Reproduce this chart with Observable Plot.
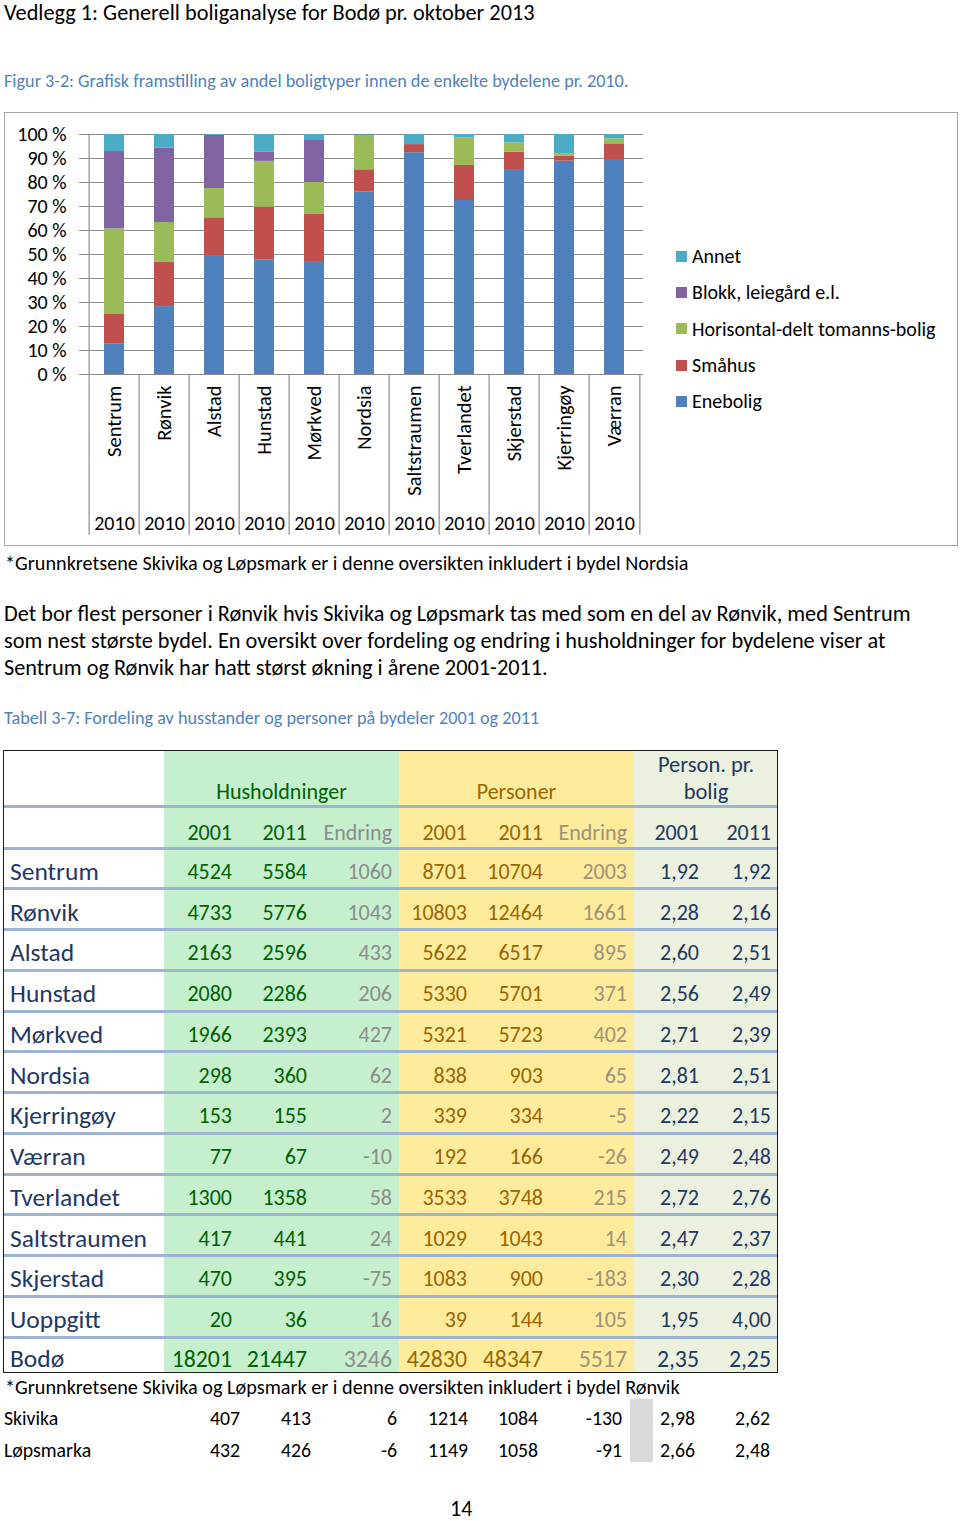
<!DOCTYPE html>
<html><head><meta charset="utf-8">
<script src="https://cdn.jsdelivr.net/npm/d3@7"></script>
<script src="https://cdn.jsdelivr.net/npm/@observablehq/plot@0.6"></script>
<style>
body{margin:0;background:#fff;font-family:Carlito,Calibri,Lato,sans-serif;color:#000;}
#page{position:relative;width:960px;height:1521px;overflow:hidden;}
.a{position:absolute;white-space:nowrap;}
.cell{position:absolute;display:flex;align-items:center;white-space:nowrap;}
</style></head><body><div id="page"></div>
<script>
// ---------- chart data ----------
const bydeler = ["Sentrum","Rønvik","Alstad","Hunstad","Mørkved","Nordsia","Saltstraumen","Tverlandet","Skjerstad","Kjerringøy","Værran"];
const aar = "2010";
const boligtyper = ["Enebolig","Småhus","Horisontal-delt tomanns-bolig","Blokk, leiegård e.l.","Annet"];
const enebolig   = [12.8,28.3,49.2,47.8,46.7,76.0,92.4,72.5,85.4,88.9,89.6];
const smahus     = [12.2,18.6,16.1,21.9,20.2, 9.3, 3.4,14.6, 7.2, 2.1, 6.5];
const horisontal = [35.7,16.4,12.2,19.1,13.1,14.3, 0.0,11.5, 3.9, 0.8, 2.1];
const blokk      = [32.2,31.0,22.1, 3.8,17.5, 0.2, 0.0, 0.0, 0.0, 0.0, 0.0];
const annet      = [ 7.1, 5.7, 0.4, 7.4, 2.5, 0.2, 4.2, 1.4, 3.5, 8.2, 1.8];
const yTicks = [0,10,20,30,40,50,60,70,80,90,100];
const legendOrder = ["Annet","Blokk, leiegård e.l.","Horisontal-delt tomanns-bolig","Småhus","Enebolig"];

// ---------- table data ----------
const tabBydeler = ["Sentrum","Rønvik","Alstad","Hunstad","Mørkved","Nordsia","Kjerringøy","Værran","Tverlandet","Saltstraumen","Skjerstad","Uoppgitt","Bodø"];
const hus2001  = [4524,4733,2163,2080,1966,298,153,77,1300,417,470,20,18201];
const hus2011  = [5584,5776,2596,2286,2393,360,155,67,1358,441,395,36,21447];
const husEndr  = [1060,1043,433,206,427,62,2,-10,58,24,-75,16,3246];
const pers2001 = [8701,10803,5622,5330,5321,838,339,192,3533,1029,1083,39,42830];
const pers2011 = [10704,12464,6517,5701,5723,903,334,166,3748,1043,900,144,48347];
const persEndr = [2003,1661,895,371,402,65,-5,-26,215,14,-183,105,5517];
const ppb2001  = ["1,92","2,28","2,60","2,56","2,71","2,81","2,22","2,49","2,72","2,47","2,30","1,95","2,35"];
const ppb2011  = ["1,92","2,16","2,51","2,49","2,39","2,51","2,15","2,48","2,76","2,37","2,28","4,00","2,25"];
const ekstraNavn = ["Skivika","Løpsmarka"];
const ekstra = [
  [407,413,6,1214,1084,-130,"2,98","2,62"],
  [432,426,-6,1149,1058,-91,"2,66","2,48"]
];

const FONT = "Carlito, Calibri, Lato, sans-serif";
const page = document.getElementById("page");
function add(html, style){const d=document.createElement("div");d.className="a";d.style.cssText=style;d.innerHTML=html;page.appendChild(d);return d;}

// header texts
add("Vedlegg 1: Generell boliganalyse for Bodø pr. oktober 2013","left:4px;top:0px;font-size:22.3px;line-height:26px;");
add("Figur 3-2: Grafisk framstilling av andel boligtyper innen de enkelte bydelene pr. 2010.","left:4px;top:70px;font-size:18.2px;line-height:22px;color:#4F81BD;");

// chart frame
add("","left:4px;top:112px;width:954px;height:434px;border:1.5px solid #A6A6A6;box-sizing:border-box;");

// chart
const W=954,H=434,mL=81,mR=315,mT=22,mB=172;
const step=(W-mL-mR)/bydeler.length;
const series=[enebolig,smahus,horisontal,blokk,annet];
const rows=[];
boligtyper.forEach((t,k)=>bydeler.forEach((b,i)=>rows.push({bydel:b,type:t,value:series[k][i]})));
const colors=["#4F81BD","#C0504D","#9BBB59","#8064A2","#4BACC6"];
const grid="#8C8C8C";
const chart=Plot.plot({
  width:W,height:H,marginLeft:mL,marginRight:mR,marginTop:mT,marginBottom:mB,
  style:{fontFamily:FONT,fontSize:"20px",color:"#000",background:"transparent",overflow:"visible"},
  x:{domain:bydeler,paddingInner:0.6,paddingOuter:0.3,axis:null},
  y:{domain:[0,100],axis:null},
  color:{domain:boligtyper,range:colors},
  marks:[
    Plot.ruleY(yTicks,{stroke:grid,strokeWidth:1.2}),
    Plot.axisY({ticks:yTicks,tickSize:6,tickPadding:13,tickFormat:d=>d+" %",stroke:grid,fill:"#000",fontSize:20,label:null}),
    Plot.ruleX([bydeler[0]],{dx:-step/2,stroke:grid,strokeWidth:1.2}),
    Plot.ruleX(bydeler,{x:d=>d,dx:-step/2,y1:0,y2:-67,stroke:grid,strokeWidth:1.2}),
    Plot.ruleX([bydeler[bydeler.length-1]],{x:d=>d,dx:step/2,y1:0,y2:-67,stroke:grid,strokeWidth:1.2}),
    Plot.barY(rows,{x:"bydel",y:"value",fill:"type"}),
    Plot.text(bydeler,{x:d=>d,y:0,dy:11,rotate:-90,textAnchor:"end",lineAnchor:"middle",fontSize:20.5}),
    Plot.text(bydeler,{x:d=>d,y:0,dy:149,text:()=>aar,fontSize:20})
  ]
});
chart.style.position="absolute";chart.style.left="4px";chart.style.top="112px";
page.appendChild(chart);

// legend
const lg=document.createElement("div");lg.className="a";lg.style.cssText="left:676px;font-size:20px;";
legendOrder.forEach(t=>{const c=colors[boligtyper.indexOf(t)];
  lg.innerHTML+=`<div style="height:36.3px;display:flex;align-items:center;"><span style="display:inline-block;width:11px;height:11px;background:${c};margin-right:5px;"></span>${t}</div>`;});
lg.style.top=(256-18)+"px";
page.appendChild(lg);

// footnote & paragraph
add("*Grunnkretsene Skivika og Løpsmark er i denne oversikten inkludert i bydel Nordsia","left:5px;top:551px;font-size:20.2px;line-height:24px;");
add("Det bor flest personer i Rønvik hvis Skivika og Løpsmark tas med som en del av Rønvik, med Sentrum<br>som nest største bydel. En oversikt over fordeling og endring i husholdninger for bydelene viser at<br>Sentrum og Rønvik har hatt størst økning i årene 2001-2011.","left:4px;top:600px;font-size:22.3px;line-height:27px;");
add("Tabell 3-7: Fordeling av husstander og personer på bydeler 2001 og 2011","left:4px;top:707px;font-size:18.2px;line-height:22px;color:#4F81BD;");

// table
const T0=750,T1=1373,L0=3,L1=778;
const regions=[[164,399,"#C6EFCE"],[399,634,"#FFEB9C"],[634,778,"#EBF1DE"]];
regions.forEach(([a,b,c])=>add("",`left:${a}px;top:${T0}px;width:${b-a}px;height:${T1-T0}px;background:${c};`));
const lineYs=[806,848];
for(let k=1;k<=12;k++) lineYs.push(848+k*40.75);
lineYs.forEach(y=>add("",`left:${L0}px;top:${y-1.5}px;width:${L1-L0}px;height:3px;background:#9DB3D4;`));
add("",`left:${L0}px;top:${T0}px;width:${L1-L0}px;height:${T1-T0}px;border:1.5px solid #1a1a1a;box-sizing:border-box;`);

const cGreen="#006100",cYel="#9C6500",cBlue="#1F3864",cGrayG="#8C8C8C",cGrayY="#9E927A";
const colL=[164,240,315,399,475,550,634,706];
const colR=[232,307,392,467,543,627,699,771];
const colColors=[cGreen,cGreen,cGrayG,cYel,cYel,cGrayY,cBlue,cBlue];
function cell(txt,left,right,top,h,color,size,align){
  const d=document.createElement("div");d.className="cell";
  d.style.cssText=`left:${left}px;width:${right-left}px;top:${top}px;height:${h}px;color:${color};font-size:${size}px;justify-content:${align||"flex-end"};`;
  d.textContent=txt;page.appendChild(d);}
// group headers
cell("Husholdninger",164,399,777,28,cGreen,22,"center");
cell("Personer",399,634,777,28,cYel,22,"center");
cell("Person. pr.",634,778,750,28,cBlue,22.5,"center");
cell("bolig",634,778,777,28,cBlue,22.5,"center");
const yearHdr=["2001","2011","Endring","2001","2011","Endring","2001","2011"];
yearHdr.forEach((t,j)=>cell(t,colL[j],colR[j],818,28,colColors[j],22));
const cols=[hus2001,hus2011,husEndr,pers2001,pers2011,persEndr,ppb2001,ppb2011];
tabBydeler.forEach((n,i)=>{
  const top=848+i*40.75, h=(i===12)?(T1-top):40.75;
  const sz=(i===12)?23.8:22;
  cell(n,10,164,top+5,h-4,cBlue,25.5,"flex-start");
  cols.forEach((c,j)=>cell(String(c[i]),colL[j],colR[j],top+5,h-4,colColors[j],sz));
});
add("*Grunnkretsene Skivika og Løpsmark er i denne oversikten inkludert i bydel Rønvik","left:5px;top:1375px;font-size:20.2px;line-height:24px;");
add("",`left:630px;top:1399px;width:23px;height:63px;background:#D9D9D9;`);
const ekstraR=[240,311,397,468,538,622,695,770];
const ekstraL=[164,250,320,400,480,550,660,700];
ekstraNavn.forEach((n,i)=>{
  const top=1405+i*32;
  cell(n,4,160,top,26,"#000",19.8,"flex-start");
  ekstra[i].forEach((v,j)=>cell(String(v),ekstraL[j],ekstraR[j],top,26,"#000",19.8));
});
add("14","left:450px;top:1497px;font-size:22px;line-height:24px;");
</script></body></html>
